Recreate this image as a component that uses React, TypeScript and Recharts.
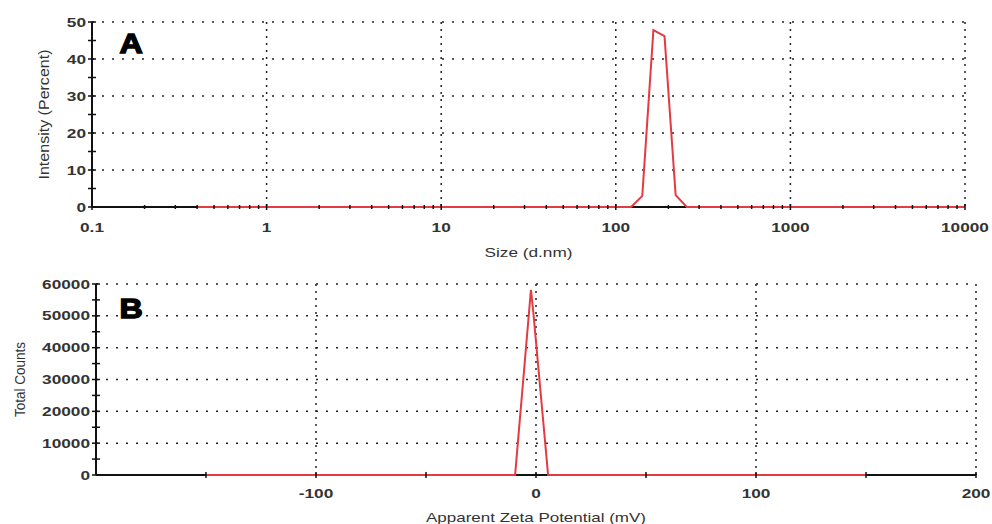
import React from "react";
import { LineChart, Line, XAxis, YAxis, CartesianGrid, Label, ReferenceLine } from "recharts";

// panel A: size distribution by intensity
const sizeNm = [0.4, 122.4, 141.8, 164.2, 190.1, 220.2, 255, 10000];
const intensityPct = [0, 0, 3.0, 47.8, 46.2, 3.2, 0, 0];
const sizeLabelTicks = [0.1, 1, 10, 100, 1000, 10000];
const sizeMinorSteps = [2, 3, 4, 5, 6, 7, 8, 9];
const intensityLabelTicks = [0, 10, 20, 30, 40, 50];
const intensityMinorTicks = [5, 15, 25, 35, 45];

// panel B: zeta potential
const zetaMv = [-150, -9.5, -2.3, -1.2, 5.5, 150];
const totalCounts = [0, 0, 58200, 51000, 0, 0];
const zetaLabelTicks = [-100, 0, 100, 200];
const zetaAllTicks = [-150, -100, -50, 0, 50, 100, 150, 200];
const countLabelTicks = [0, 10000, 20000, 30000, 40000, 50000, 60000];
const countMinorTicks = [5000, 15000, 25000, 35000, 45000, 55000];

const sizeData = sizeNm.map((size, i) => ({ size, value: intensityPct[i] }));
const zetaData = zetaMv.map((mv, i) => ({ mv, value: totalCounts[i] }));

const sizeAllTicks = [
  ...sizeLabelTicks,
  ...sizeLabelTicks.slice(0, -1).flatMap((d) => sizeMinorSteps.map((s) => d * s)),
].sort((a, b) => a - b);
const intensityAllTicks = [...intensityLabelTicks, ...intensityMinorTicks].sort((a, b) => a - b);
const countAllTicks = [...countLabelTicks, ...countMinorTicks].sort((a, b) => a - b);

const RED = "#e23b42";
const AXIS = "#111";
const TEXT = "#333";
const GRID = "#222";
const FONT = "'Liberation Sans', Arial, sans-serif";
const STRETCH = 1.38;

const near = (list: number[], v: number) => list.some((l) => Math.abs(l - v) < 1e-9 * Math.max(1, Math.abs(l)));

function xTick(labels: number[], minorLen: number, majorLen: number, dy: number) {
  return (props: any) => {
    const { x, y, payload } = props;
    const v = payload.value;
    const isLabel = near(labels, v);
    const h = isLabel ? majorLen : minorLen;
    return (
      <g>
        <line x1={x} x2={x} y1={y - h} y2={y + h} stroke={AXIS} strokeWidth={1.5} />
        {isLabel && (
          <text
            transform={`translate(${x} ${y + dy}) scale(${STRETCH} 1)`}
            textAnchor="middle"
            fontFamily={FONT}
            fontWeight="bold"
            fontSize={12.5}
            fill={TEXT}
          >
            {String(v)}
          </text>
        )}
      </g>
    );
  };
}

function yTick(labels: number[]) {
  return (props: any) => {
    const { x, y, payload } = props;
    const v = payload.value;
    const isLabel = near(labels, v);
    return (
      <g>
        <line x1={x - 4} x2={x + 4} y1={y} y2={y} stroke={AXIS} strokeWidth={1.5} />
        {isLabel && (
          <text
            transform={`translate(${x - 6} ${y + 4.5}) scale(${STRETCH} 1)`}
            textAnchor="end"
            fontFamily={FONT}
            fontWeight="bold"
            fontSize={12.5}
            fill={TEXT}
          >
            {String(v)}
          </text>
        )}
      </g>
    );
  };
}

function yTitle(text: string, dx: number, len: number) {
  return (props: any) => {
    const vb = props.viewBox;
    const cx = vb.x + dx;
    const cy = vb.y + vb.height / 2;
    return (
      <text
        transform={`translate(${cx} ${cy}) rotate(-90)`}
        textAnchor="middle"
        dominantBaseline="central"
        fontFamily={FONT}
        fontSize={14.5}
        fill={TEXT}
        textLength={len}
        lengthAdjust="spacingAndGlyphs"
      >
        {text}
      </text>
    );
  };
}

function xTitle(text: string, dy: number, len: number) {
  return (props: any) => {
    const vb = props.viewBox;
    return (
      <text
        x={vb.x + vb.width / 2}
        y={vb.y + dy}
        textAnchor="middle"
        fontFamily={FONT}
        fontSize={13}
        fill={TEXT}
        textLength={len}
        lengthAdjust="spacingAndGlyphs"
      >
        {text}
      </text>
    );
  };
}

export default function App() {
  return (
    <div style={{ position: "absolute", left: 0, top: 0, width: 992, height: 524, background: "#fff" }}>
      <LineChart width={992} height={262} data={sizeData} margin={{ top: 22, right: 27, bottom: 0, left: 0 }}>
        <CartesianGrid
          vertical={false}
          horizontalValues={[10, 20, 30, 40, 50]}
          stroke={GRID}
          strokeWidth={1.5}
          strokeDasharray="2 8"
        />
        <CartesianGrid
          horizontal={false}
          verticalValues={[1, 10, 100, 1000, 10000]}
          stroke={GRID}
          strokeWidth={1.5}
          strokeDasharray="2 5"
        />
        <ReferenceLine y={0} stroke={AXIS} strokeWidth={2} zIndex={600} />
        <XAxis
          dataKey="size"
          type="number"
          scale="log"
          domain={[0.1, 10000]}
          allowDataOverflow
          ticks={sizeAllTicks}
          interval={0}
          height={55}
          tickSize={0}
          tickMargin={0}
          tickLine={false}
          axisLine={false}
          zIndex={800}
          tick={xTick(sizeLabelTicks, 2, 3, 25)}
        >
          <Label content={xTitle("Size (d.nm)", 49.5, 88)} />
        </XAxis>
        <YAxis
          type="number"
          domain={[0, 50]}
          ticks={intensityAllTicks}
          interval={0}
          width={92}
          tickSize={0}
          tickMargin={0}
          tickLine={false}
          axisLine={{ stroke: AXIS, strokeWidth: 2 }}
          tick={yTick(intensityLabelTicks)}
        >
          <Label content={yTitle("Intensity (Percent)", 44, 130)} />
        </YAxis>
        <Line
          dataKey="value"
          type="linear"
          stroke={RED}
          strokeWidth={2}
          dot={false}
          isAnimationActive={false}
          zIndex={700}
        />
      </LineChart>
      <LineChart width={992} height={262} data={zetaData} margin={{ top: 22, right: 16, bottom: 0, left: 0 }}>
        <CartesianGrid
          vertical={false}
          horizontalValues={[10000, 20000, 30000, 40000, 50000, 60000]}
          stroke={GRID}
          strokeWidth={1.5}
          strokeDasharray="2 8"
        />
        <CartesianGrid
          horizontal={false}
          verticalValues={[-100, 0, 100, 200]}
          stroke={GRID}
          strokeWidth={1.5}
          strokeDasharray="2 5"
        />
        <ReferenceLine y={0} stroke={AXIS} strokeWidth={2} zIndex={600} />
        <XAxis
          dataKey="mv"
          type="number"
          domain={[-200, 200]}
          ticks={zetaAllTicks}
          interval={0}
          height={49}
          tickSize={0}
          tickMargin={0}
          tickLine={false}
          axisLine={false}
          zIndex={800}
          tick={xTick(zetaLabelTicks, 3, 3, 22.5)}
        >
          <Label content={xTitle("Apparent Zeta Potential (mV)", 46.5, 220)} />
        </XAxis>
        <YAxis
          type="number"
          domain={[0, 60000]}
          ticks={countAllTicks}
          interval={0}
          width={96}
          tickSize={0}
          tickMargin={0}
          tickLine={false}
          axisLine={{ stroke: AXIS, strokeWidth: 2 }}
          tick={yTick(countLabelTicks)}
        >
          <Label content={yTitle("Total Counts", 19.5, 75)} />
        </YAxis>
        <Line
          dataKey="value"
          type="linear"
          stroke={RED}
          strokeWidth={2}
          dot={false}
          isAnimationActive={false}
          zIndex={700}
        />
      </LineChart>
      <svg
        width={992}
        height={524}
        style={{ position: "absolute", left: 0, top: 0, pointerEvents: "none" }}
      >
        <text
          transform="translate(131 53) scale(1.15 1)"
          textAnchor="middle"
          fontFamily={FONT}
          fontWeight="bold"
          fontSize={28}
          fill="#000"
          stroke="#000"
          strokeWidth={1.4}
        >
          A
        </text>
        <text
          transform="translate(131 318) scale(1.15 1)"
          textAnchor="middle"
          fontFamily={FONT}
          fontWeight="bold"
          fontSize={28}
          fill="#000"
          stroke="#000"
          strokeWidth={1.4}
        >
          B
        </text>
      </svg>
    </div>
  );
}
